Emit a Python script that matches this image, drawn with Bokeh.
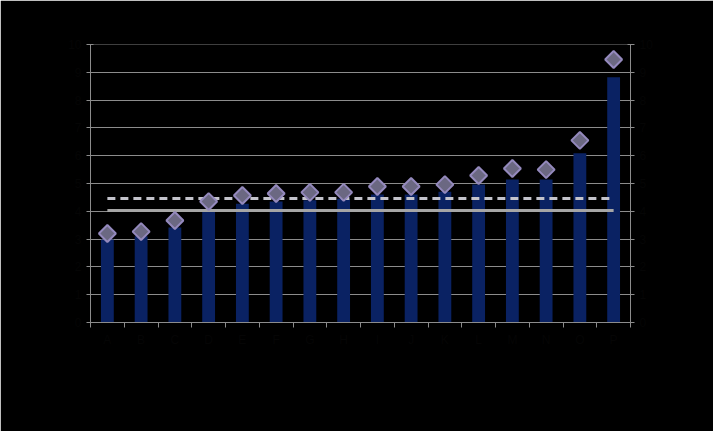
import math
from bokeh.plotting import figure
from bokeh.models import Range1d, LinearAxis, FixedTicker
from bokeh.embed import file_html
from bokeh.resources import INLINE

categories = ["A", "B", "C", "D", "E", "F", "G", "H",
              "I", "J", "K", "L", "M", "N", "O", "P"]
bar_values = [2.99, 3.1, 3.42, 4.0, 4.27, 4.35, 4.4, 4.45,
              4.6, 4.6, 4.7, 4.96, 5.14, 5.14, 6.09, 8.82]
marker_values = [3.2, 3.27, 3.67, 4.35, 4.57, 4.64, 4.68, 4.68,
                 4.89, 4.89, 4.96, 5.29, 5.54, 5.5, 6.55, 9.46]
dashed_level = 4.46
solid_level = 4.03
y_ticks = [0, 1, 2, 3, 4, 5, 6, 7, 8, 9, 10]

n = len(categories)
xs = list(range(1, n + 1))

p = figure(width=713, height=431, output_backend="svg", toolbar_location=None,
           x_range=Range1d(0.5, n + 0.5), y_range=Range1d(0, 10),
           min_border_left=90, min_border_right=83, min_border_top=44,
           min_border_bottom=109, background_fill_color="black",
           border_fill_color="black", outline_line_color=None)
p.extra_y_ranges = {"right": Range1d(0, 10)}

txt = "#050505"
axcol = "#8c8c8c"

p.xaxis.ticker = FixedTicker(ticks=xs, minor_ticks=[i + 0.5 for i in range(n + 1)])
p.xaxis.major_label_overrides = {x: c for x, c in zip(xs, categories)}
p.xaxis.major_tick_out = 0
p.xaxis.major_tick_in = 0
p.xaxis.minor_tick_out = 5
p.xaxis.minor_tick_in = 0
p.xaxis.minor_tick_line_color = axcol
p.xaxis.axis_line_color = axcol
p.xaxis.major_label_text_color = txt
p.xaxis.major_label_text_font_size = "9pt"

p.yaxis.ticker = FixedTicker(ticks=y_ticks, minor_ticks=[])
p.yaxis.major_tick_in = 3
p.yaxis.major_tick_out = 4
p.yaxis.axis_line_color = axcol
p.yaxis.major_tick_line_color = axcol
p.yaxis.major_label_text_color = txt
p.yaxis.major_label_text_font_size = "9pt"

ry = LinearAxis(y_range_name="right", ticker=FixedTicker(ticks=y_ticks, minor_ticks=[]))
ry.major_tick_in = 3
ry.major_tick_out = 4
ry.axis_line_color = axcol
ry.major_tick_line_color = axcol
ry.major_label_text_color = txt
ry.major_label_text_font_size = "9pt"
p.add_layout(ry, "right")

p.xgrid.grid_line_color = None
p.ygrid.grid_line_color = axcol
p.ygrid.ticker = FixedTicker(ticks=y_ticks)

p.vbar(x=xs, top=bar_values, width=0.38, fill_color="#0a2263", line_color=None)
p.line(x=[xs[0], xs[-1]], y=[solid_level, solid_level], line_color="#a6a6a6", line_width=3)
p.line(x=[xs[0], xs[-1]], y=[dashed_level, dashed_level], line_color="#c4c4cc",
       line_width=3, line_dash="8 5")
p.scatter(x=xs, y=marker_values, marker="square", angle=math.pi / 4, size=12,
          fill_color="#6b6882", line_color="#9489bd", line_width=2)

open("out.html", "w").write(file_html(p, INLINE))
